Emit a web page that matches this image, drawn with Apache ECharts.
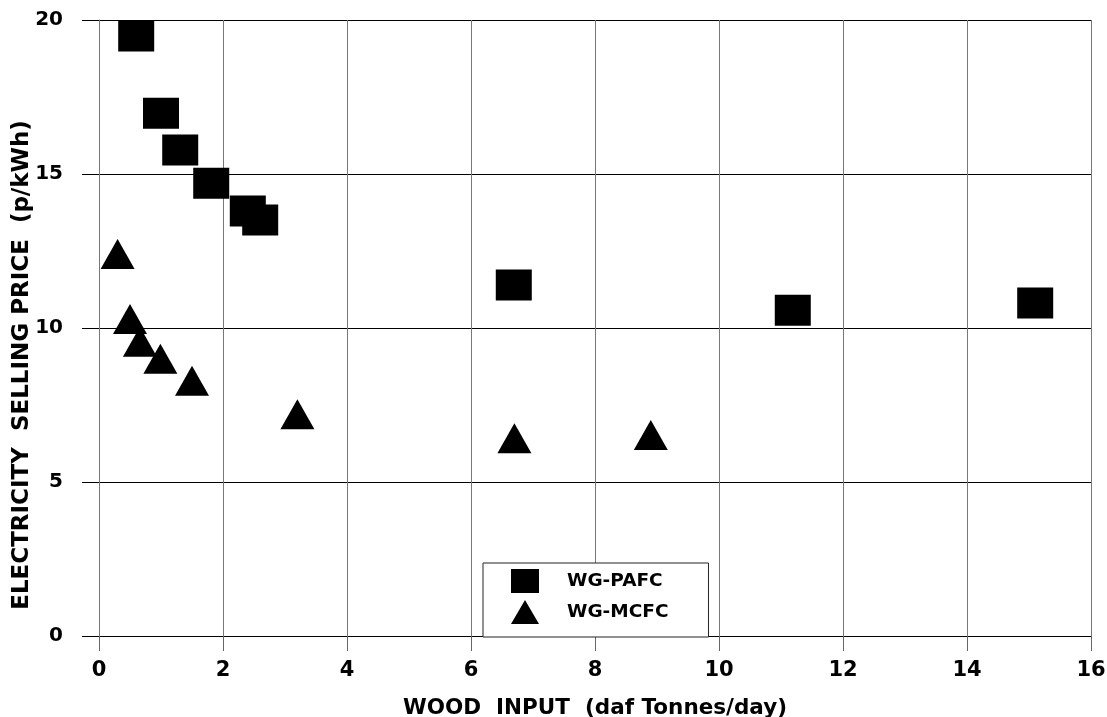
<!DOCTYPE html>
<html>
<head>
<meta charset="utf-8">
<script src="https://cdn.jsdelivr.net/npm/echarts@6/dist/echarts.min.js"></script>
<style>
  html, body { margin: 0; padding: 0; background: #fff; }
  #chart { width: 1107px; height: 717px; }
</style>
</head>
<body>
<div id="chart"></div>
<script>
// wood input (daf t/day) vs electricity selling price (p/kWh)
const pafcData = [
  [0.60, 19.48], [1.00, 16.97], [1.31, 15.78], [1.81, 14.70], [2.40, 13.80],
  [2.60, 13.51], [6.69, 11.40], [11.19, 10.58], [15.10, 10.81]
]
const mcfcData = [
  [0.30, 12.40], [0.50, 10.29], [0.66, 9.55], [0.99, 9.00], [1.50, 8.29],
  [3.20, 7.20], [6.70, 6.42], [8.90, 6.53]
]
const seriesNames = ['WG-PAFC', 'WG-MCFC']
const xTitle = 'WOOD  INPUT  (daf Tonnes/day)'
const yTitle = 'ELECTRICITY  SELLING PRICE  (p/kWh)'

const font = '"DejaVu Sans", Arial, sans-serif'

const chart = echarts.init(document.getElementById('chart'))
const option = {
  backgroundColor: '#FFFFFF',
  animation: false,
  // keep the plot box fixed, labels may sit near the edges
  grid: { left: 99, right: 16, top: 20, bottom: 81, outerBoundsMode: 'none' },
  legend: {
    data: seriesNames,
    orient: 'vertical',
    left: 483,
    top: 563,
    selectedMode: false,
    itemWidth: 28,
    itemHeight: 24,
    itemGap: 7,
    padding: [6, 40, 13, 28],
    backgroundColor: '#FFFFFF',
    borderColor: '#222',
    borderWidth: 1,
    textStyle: {
      fontFamily: font,
      fontWeight: 'bold',
      fontSize: 18.5,
      color: '#000',
      padding: [3, 0, 0, 23]
    }
  },
  xAxis: {
    type: 'value',
    min: 0,
    max: 16,
    interval: 2,
    name: xTitle,
    nameLocation: 'middle',
    nameGap: 61,
    nameTextStyle: { fontFamily: font, fontWeight: 'bold', fontSize: 21.5, color: '#000' },
    axisLine: { lineStyle: { color: '#000', width: 1 } },
    axisTick: { length: 15, lineStyle: { color: '#666' } },
    axisLabel: { margin: 24, fontFamily: font, fontWeight: 'bold', fontSize: 21, color: '#000' },
    splitLine: { show: true, lineStyle: { color: '#777', width: 1 } }
  },
  yAxis: {
    type: 'value',
    min: 0,
    max: 20,
    interval: 5,
    axisLine: { show: true, lineStyle: { color: '#777', width: 1 } },
    axisTick: { show: true, length: 17, lineStyle: { color: '#000' } },
    axisLabel: { margin: 36, fontFamily: font, fontWeight: 'bold', fontSize: 20, color: '#000' },
    splitLine: { show: true, lineStyle: { color: '#000', width: 1 } }
  },
  graphic: [{
    type: 'text',
    x: 22,
    y: 365,
    rotation: Math.PI / 2,
    style: {
      text: yTitle,
      align: 'center',
      verticalAlign: 'middle',
      font: 'bold 23px ' + font,
      fill: '#000'
    }
  }],
  series: [
    {
      name: seriesNames[0],
      type: 'scatter',
      symbol: 'rect',
      symbolSize: [36, 31],
      itemStyle: { color: '#000', opacity: 1 },
      data: pafcData
    },
    {
      name: seriesNames[1],
      type: 'scatter',
      symbol: 'triangle',
      symbolSize: [34, 30],
      itemStyle: { color: '#000', opacity: 1 },
      data: mcfcData
    }
  ]
}
chart.setOption(option)
</script>
</body>
</html>
